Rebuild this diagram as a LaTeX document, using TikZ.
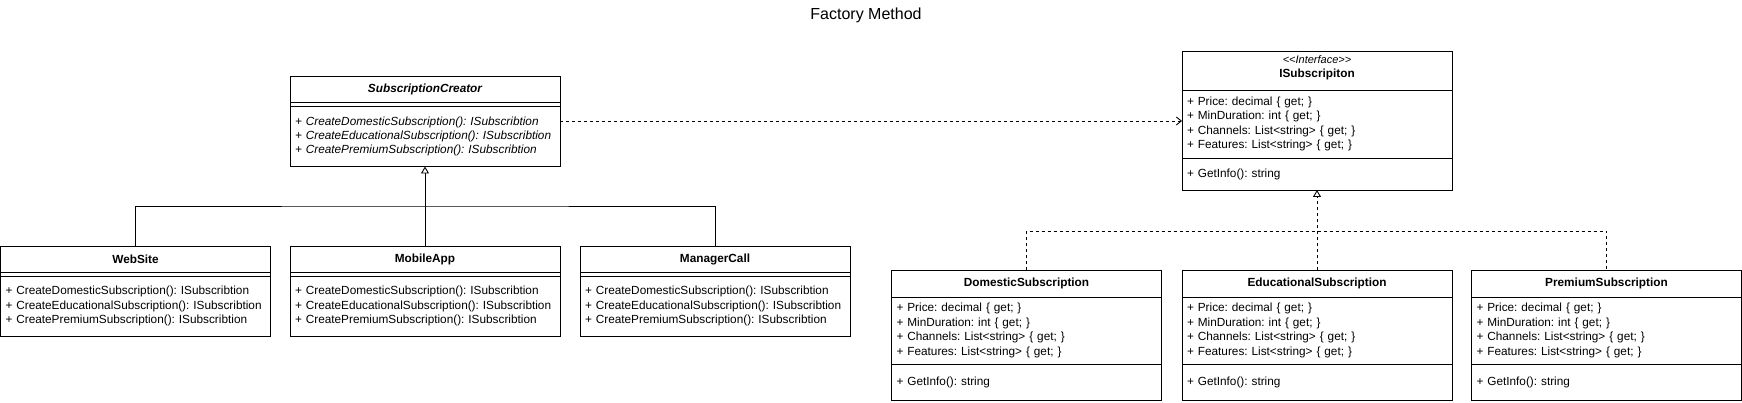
\documentclass[tikz,border=0pt]{standalone}
\usepackage{fontspec}
\setmainfont{Liberation Sans}
\usepackage{tikz}
\usetikzlibrary{positioning,arrows.meta}
\tikzset{>=stealth}
\frenchspacing
\newcommand{\umlsize}{\fontsize{11.8}{14.4}\selectfont}
\newcommand{\attrs}{+ Price: decimal \{ get; \}\\ + MinDuration: int \{ get; \}\\ + Channels: List<string> \{ get; \}\\ + Features: List<string> \{ get; \}}
\newcommand{\creates}{+ CreateDomesticSubscription(): ISubscribtion\\ + CreateEducationalSubscription(): ISubscribtion\\ + CreatePremiumSubscription(): ISubscribtion}
\tikzset{
  box/.style={draw, line width=0.9pt, minimum width=270pt, outer sep=0pt, inner sep=0pt},
  classname/.style={box, minimum height=26pt, font=\umlsize\bfseries},
  classgap/.style={box, minimum height=4pt},
  classbody/.style={box, text width=260pt, inner xsep=5pt, align=left, font=\umlsize},
  inherit/.style={line width=0.9pt, -{Triangle[open, length=7pt, width=8pt]}},
  realize/.style={inherit, dash pattern=on 3pt off 3pt},
  depend/.style={line width=0.9pt, dash pattern=on 3pt off 3pt, -{Straight Barb[length=5pt, width=8pt]}},
}

\begin{document}
\begin{tikzpicture}[x=1pt,y=-1pt]
    \useasboundingbox (0,0) rectangle (1742,403);
    % set up the nodes
    \node[font=\fontsize{16}{19}\selectfont] (title) at (866,15) {Factory Method};

    \node[classname] (creator) at (425,89.5) {\itshape SubscriptionCreator};
    \node[classgap, below=0pt of creator] (creatorG) {};
    \node[classbody, below=0pt of creatorG, minimum height=60pt, font=\umlsize\itshape] (creatorM) {\creates};

    \node[classname] (website) at (135.5,259) {WebSite};
    \node[classgap, below=0pt of website] (websiteG) {};
    \node[classbody, below=0pt of websiteG, minimum height=60pt] (websiteM) {\creates};

    \node[classname] (mobile) at (425,259) {MobileApp};
    \node[classgap, below=0pt of mobile] (mobileG) {};
    \node[classbody, below=0pt of mobileG, minimum height=60pt] (mobileM) {\creates};

    \node[classname] (manager) at (715,259) {ManagerCall};
    \node[classgap, below=0pt of manager] (managerG) {};
    \node[classbody, below=0pt of managerG, minimum height=60pt] (managerM) {\creates};

    \node[classname, minimum height=39pt, align=center, text depth=8pt] (iface) at (1317,70.5) {{\fontsize{11}{13}\selectfont\mdseries\itshape <{}<Interface>{}>}\\ ISubscripiton};
    \node[classbody, below=0pt of iface, minimum height=68pt] (ifaceA) {\attrs};
    \node[classbody, below=0pt of ifaceA, minimum height=32pt] (ifaceM) {+ GetInfo(): string};

    \node[classname, minimum height=27pt] (domestic) at (1026.5,283.5) {DomesticSubscription};
    \node[classbody, below=0pt of domestic, minimum height=67pt] (domesticA) {\attrs};
    \node[classbody, below=0pt of domesticA, minimum height=36pt] (domesticM) {+ GetInfo(): string};

    \node[classname, minimum height=27pt] (educational) at (1317,283.5) {EducationalSubscription};
    \node[classbody, below=0pt of educational, minimum height=67pt] (educationalA) {\attrs};
    \node[classbody, below=0pt of educationalA, minimum height=36pt] (educationalM) {+ GetInfo(): string};

    \node[classname, minimum height=27pt] (premium) at (1606.5,283.5) {PremiumSubscription};
    \node[classbody, below=0pt of premium, minimum height=67pt] (premiumA) {\attrs};
    \node[classbody, below=0pt of premiumA, minimum height=36pt] (premiumM) {+ GetInfo(): string};

    \coordinate (creatorJoint) at (425,206);
    \coordinate (ifaceJoint) at (1317,231);
    \coordinate (depLevel) at (870,121);
    % draw arrows between them
    \draw[inherit] (mobile.north) -- (creatorM.south);
    \draw[line width=0.9pt] (website.north) |- (creatorJoint) -| (manager.north);
    \draw[realize] (educational.north) -- (ifaceM.south);
    \draw[line width=0.9pt, dash pattern=on 3pt off 3pt] (domestic.north) |- (ifaceJoint) -| (premium.north);
    \draw[depend] (creatorM.east |- depLevel) -- (ifaceA.west |- depLevel);
\end{tikzpicture}
\end{document}
